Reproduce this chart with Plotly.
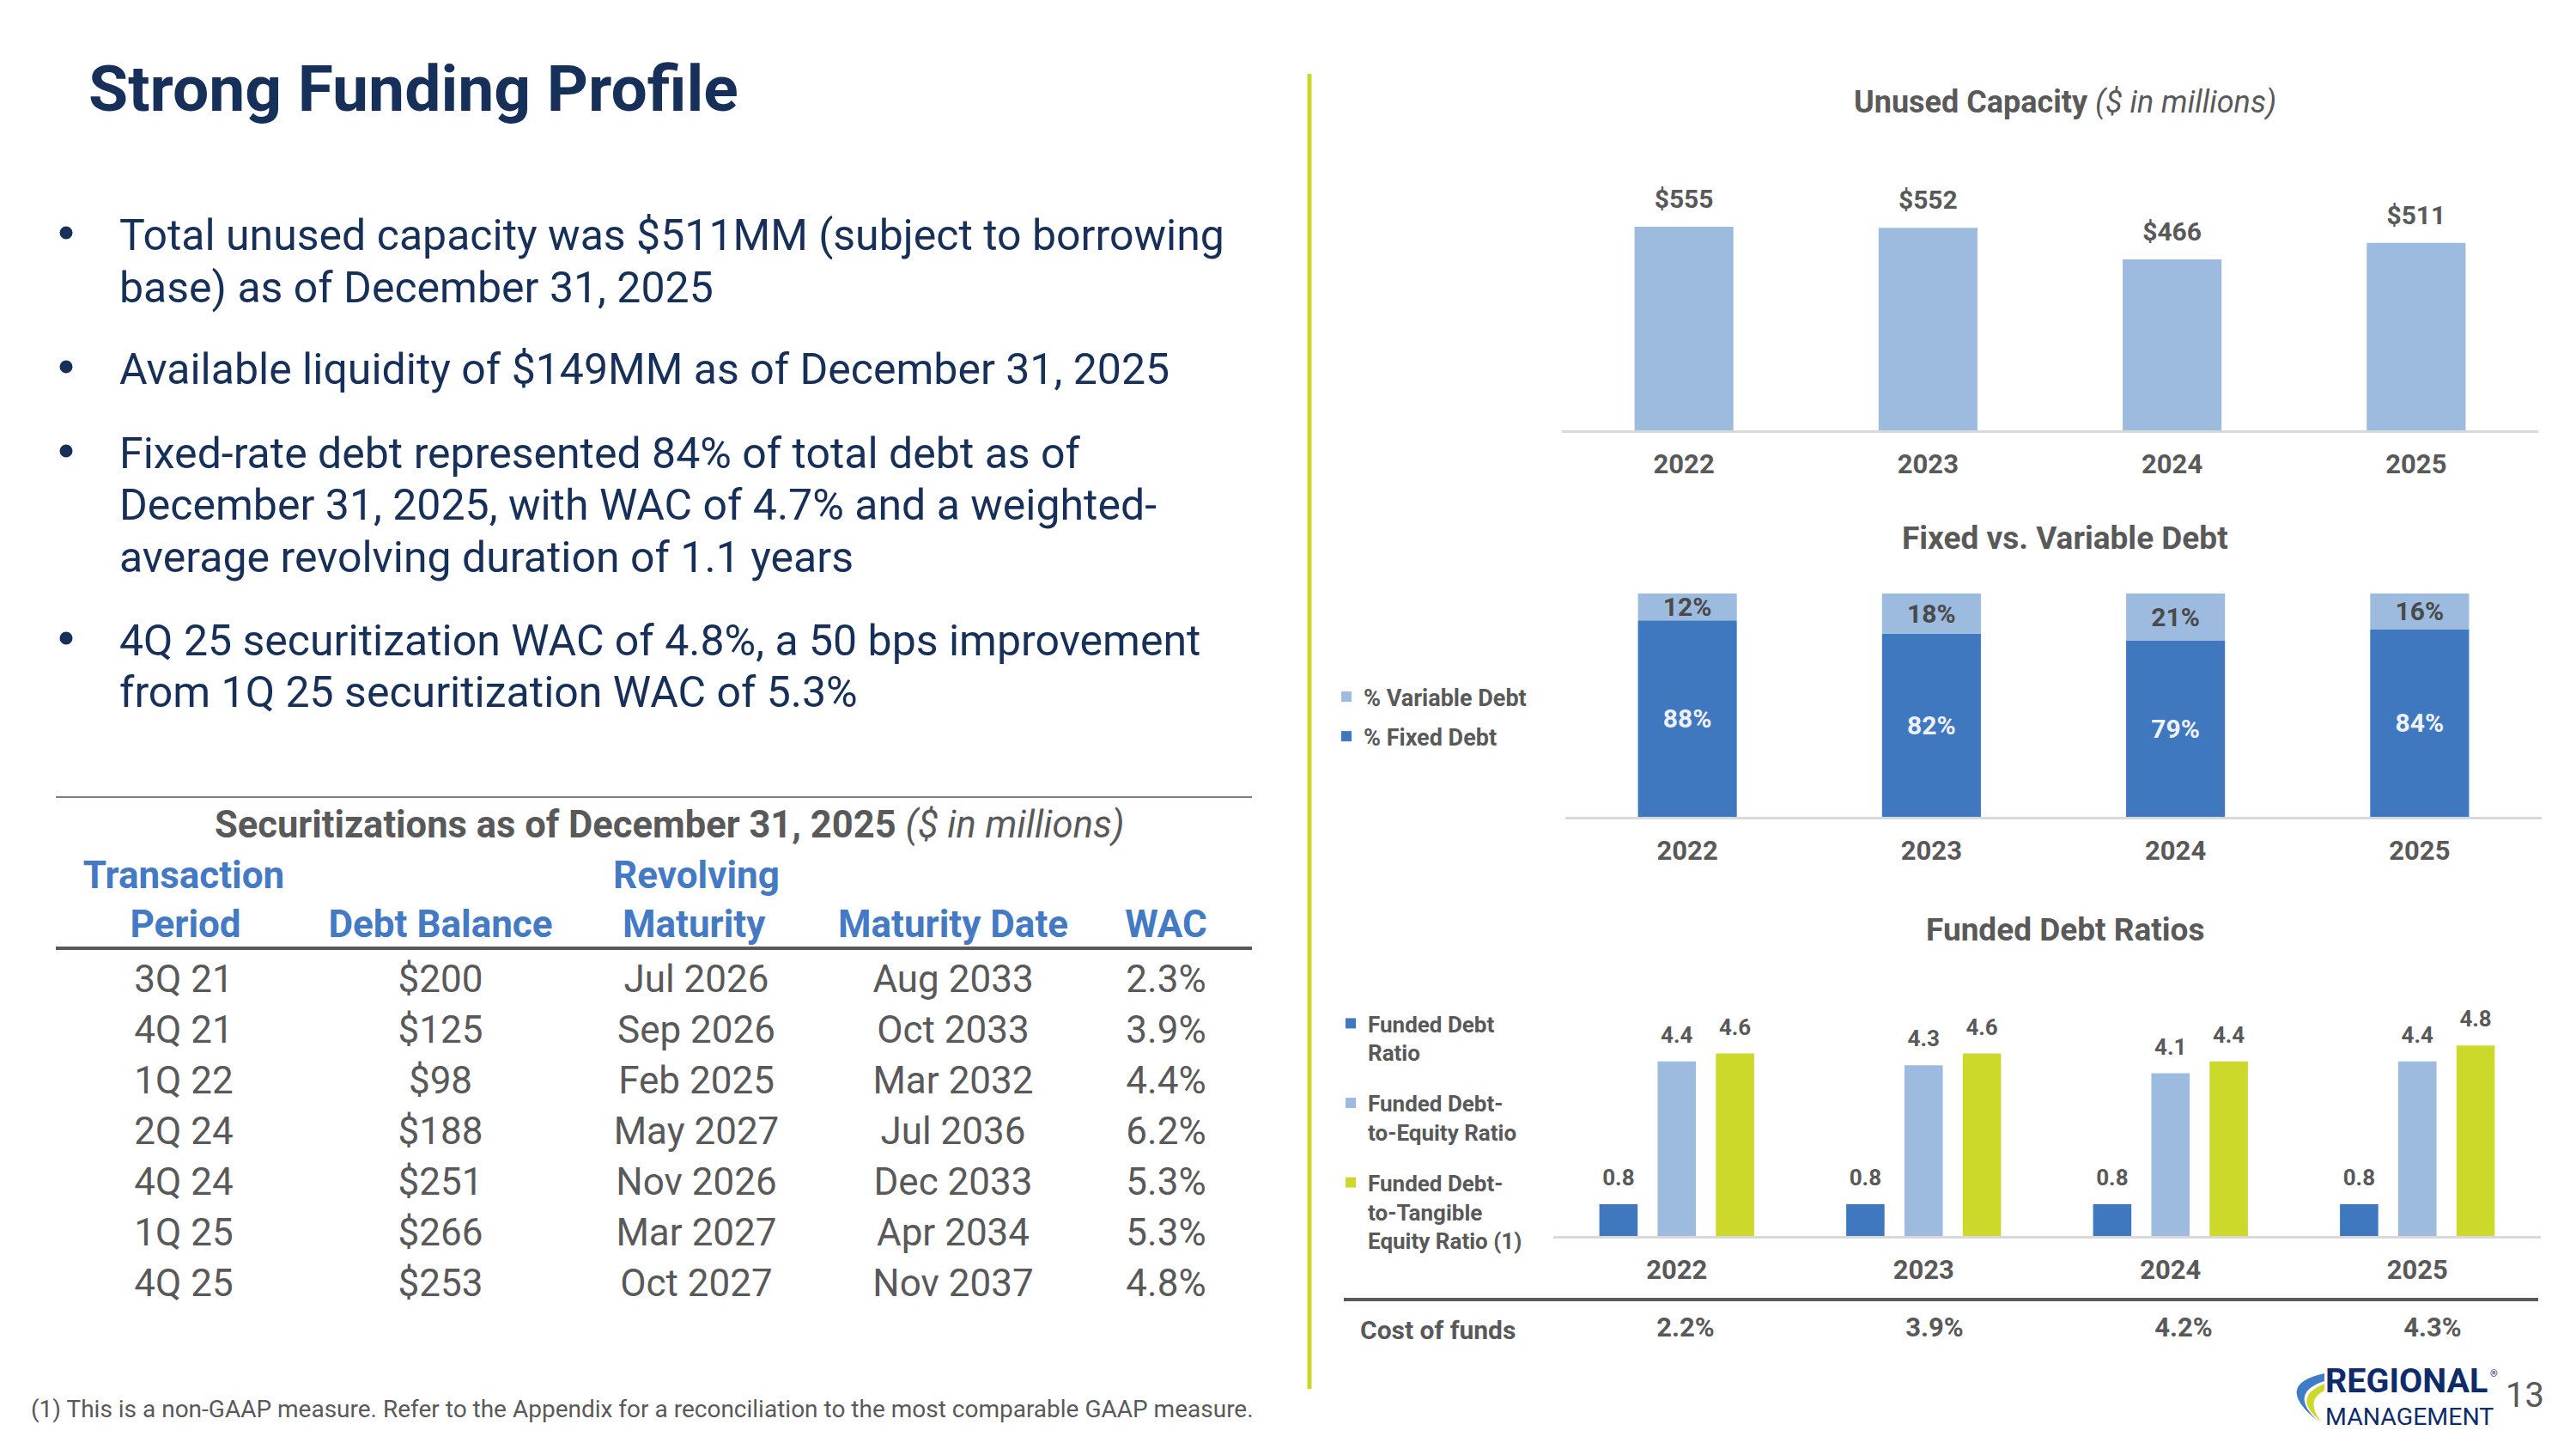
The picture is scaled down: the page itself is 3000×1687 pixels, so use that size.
import plotly.graph_objects as go

# ---------------- data ----------------
years = ["2022", "2023", "2024", "2025"]
unused_capacity = [555, 552, 466, 511]
fixed_debt_pct = [88, 82, 79, 84]
variable_debt_pct = [12, 18, 21, 16]
funded_debt_ratio = [0.8, 0.8, 0.8, 0.8]
funded_debt_to_equity = [4.4, 4.3, 4.1, 4.4]
funded_debt_to_tangible = [4.6, 4.6, 4.4, 4.8]
cost_of_funds = [2.2, 3.9, 4.2, 4.3]
cost_label = "Cost of funds"

NB = "\u00a0"
table_headers = ["Transaction<br>" + NB * 5 + "Period", " <br>Debt" + NB + "Balance",
                 "Revolving<br>" + NB + "Maturity", " <br>Maturity" + NB + "Date", " <br>WAC"]
periods = ["3Q 21", "4Q 21", "1Q 22", "2Q 24", "4Q 24", "1Q 25", "4Q 25"]
debt_balance = [200, 125, 98, 188, 251, 266, 253]
revolving_maturity = ["Jul 2026", "Sep 2026", "Feb 2025", "May 2027", "Nov 2026", "Mar 2027", "Oct 2027"]
maturity_date = ["Aug 2033", "Oct 2033", "Mar 2032", "Jul 2036", "Dec 2033", "Apr 2034", "Nov 2037"]
wac = [2.3, 3.9, 4.4, 6.2, 5.3, 5.3, 4.8]

bullets = [
    ["Total unused capacity was $511MM (subject to borrowing", "base) as of December 31, 2025"],
    ["Available liquidity of $149MM as of December 31, 2025"],
    ["Fixed-rate debt represented 84% of total debt as of",
     "December 31, 2025, with WAC of 4.7% and a weighted-",
     "average revolving duration of 1.1 years"],
    ["4Q 25 securitization WAC of 4.8%, a 50 bps improvement", "from 1Q 25 securitization WAC of 5.3%"],
]
footnote = "(1) This is a non-GAAP measure. Refer to the Appendix for a reconciliation to the most comparable GAAP measure."

# ---------------- style ----------------
W, H = 3000, 1687
def px(x):
    return x / W
def py(y):
    return 1 - y / H

FONT = "Roboto"
GRAY = "#595959"
NAVY = "#17305A"
HDR_BLUE = "#4479C4"
DARK_BLUE = "#3F78BF"
LIGHT_BLUE = "#9DBBDF"
GREEN = "#CCD82A"
AXIS_GRAY = "#D9D9D9"
LOGO_NAVY = "#0E2C6B"

fig = go.Figure()

# ---------- Chart 1: Unused capacity ----------
fig.add_trace(go.Bar(x=years, y=unused_capacity, marker=dict(color=LIGHT_BLUE, line=dict(width=0)),
                     width=0.405, xaxis="x", yaxis="y", showlegend=False, hoverinfo="skip"))
fig.add_trace(go.Scatter(x=years, y=unused_capacity, mode="markers+text",
                         text=[f"${v}" for v in unused_capacity], textposition="top center",
                         marker=dict(size=22, opacity=0), cliponaxis=False,
                         textfont=dict(family=FONT, size=30, color=GRAY, weight="bold"),
                         xaxis="x", yaxis="y", showlegend=False, hoverinfo="skip"))

# ---------- Chart 2: Fixed vs variable ----------
fig.add_trace(go.Bar(x=years, y=fixed_debt_pct, name="% Fixed Debt", legendrank=2,
                     marker=dict(color=DARK_BLUE, line=dict(width=0)), width=0.405, offsetgroup="fv",
                     text=[f"{v}%" for v in fixed_debt_pct], textposition="inside",
                     insidetextanchor="middle", constraintext="none", textangle=0,
                     textfont=dict(family=FONT, size=30, color="#EEF2F8", weight="bold"),
                     xaxis="x2", yaxis="y2", legend="legend2", legendgroup="fixed", hoverinfo="skip"))
fig.add_trace(go.Bar(x=years, y=variable_debt_pct, base=fixed_debt_pct, name="% Variable Debt", legendrank=1,
                     marker=dict(color=LIGHT_BLUE, line=dict(width=0)), width=0.405, offsetgroup="fv",
                     text=[f"{v}%" for v in variable_debt_pct], textposition="inside",
                     insidetextanchor="middle", constraintext="none", textangle=0,
                     textfont=dict(family=FONT, size=30, color="#4A4A4A", weight="bold"),
                     xaxis="x2", yaxis="y2", legend="legend2", legendgroup="variable", hoverinfo="skip"))

# ---------- Chart 3: Funded debt ratios ----------
ratio_series = [
    ("Funded Debt<br>Ratio", funded_debt_ratio, DARK_BLUE, "a"),
    ("Funded Debt-<br>to-Equity Ratio", funded_debt_to_equity, LIGHT_BLUE, "b"),
    ("Funded Debt-<br>to-Tangible<br>Equity Ratio (1)", funded_debt_to_tangible, GREEN, "c"),
]
for name, vals, col, grp in ratio_series:
    fig.add_trace(go.Bar(x=years, y=vals, name=name, marker=dict(color=col, line=dict(width=0)),
                         offsetgroup=grp, xaxis="x3", yaxis="y3", legend="legend3",
                         legendgroup=grp, hoverinfo="skip"))
for name, vals, col, grp in ratio_series:
    fig.add_trace(go.Scatter(x=years, y=vals, mode="markers+text", text=[f"{v:.1f}" for v in vals],
                             textposition="top center", marker=dict(size=23, opacity=0),
                             offsetgroup=grp, cliponaxis=False,
                             textfont=dict(family=FONT, size=26, color=GRAY, weight="bold"),
                             xaxis="x3", yaxis="y3", showlegend=False, hoverinfo="skip"))

# ---------- Cost of funds row ----------
fig.add_trace(go.Scatter(x=years, y=[0] * len(years), mode="text",
                         text=[f"{v:.1f}%" for v in cost_of_funds], textposition="middle center",
                         textfont=dict(family=FONT, size=31, color=GRAY, weight="bold"),
                         xaxis="x4", yaxis="y4", showlegend=False, hoverinfo="skip", cliponaxis=False))

# ---------- Securitizations table ----------
fig.add_trace(go.Table(
    domain=dict(x=[px(65), px(1455)], y=[py(1560), py(985)]),
    columnwidth=[298, 300, 296, 302, 194],
    header=dict(values=table_headers, align="center", height=129,
                font=dict(family=FONT, size=44, color=HDR_BLUE, weight="bold"),
                fill=dict(color="rgba(0,0,0,0)"), line=dict(color="rgba(0,0,0,0)", width=0)),
    cells=dict(values=[periods, debt_balance, revolving_maturity, maturity_date, wac],
               prefix=["", "$", "", "", ""], suffix=["", "", "", "", "%"],
               format=["", "d", "", "", ".1f"], align="center", height=59,
               font=dict(family=FONT, size=44, color=GRAY),
               fill=dict(color="rgba(0,0,0,0)"), line=dict(color="rgba(0,0,0,0)", width=0)),
))

# ---------------- axes ----------------
def xax(x0, x1, anchor):
    return dict(domain=[px(x0), px(x1)], anchor=anchor, type="category", showline=True,
                linecolor=AXIS_GRAY, linewidth=3, ticks="", showgrid=False, zeroline=False,
                ticklabelstandoff=10, fixedrange=True,
                tickfont=dict(family=FONT, size=31, color=GRAY, weight="bold"))

def yax(y_bottom, y_top, rng, anchor):
    return dict(domain=[py(y_bottom), py(y_top)], range=rng, visible=False, anchor=anchor,
                showgrid=False, zeroline=False, fixedrange=True)

ppu1 = 237 / 555
ppu3 = 46.2

annotations = []
def ann(text, x, y, size, color=GRAY, xanchor="left", yanchor="middle", weight="normal", align="left"):
    annotations.append(dict(text=text, x=px(x), y=py(y), xref="paper", yref="paper",
                            xanchor=xanchor, yanchor=yanchor, showarrow=False, align=align,
                            font=dict(family=FONT, size=size, color=color, weight=weight)))

shapes = []
def line(x0, y0, x1, y1, color, width):
    shapes.append(dict(type="line", xref="paper", yref="paper", x0=px(x0), y0=py(y0), x1=px(x1), y1=py(y1),
                       line=dict(color=color, width=width), layer="above"))

def dot(xc, yc, r, color):
    shapes.append(dict(type="circle", xref="paper", yref="paper", x0=px(xc - r), x1=px(xc + r),
                       y0=py(yc + r), y1=py(yc - r), fillcolor=color, line=dict(width=0), layer="above"))

def path(points, color):
    (ax, ay), (c1x, c1y), (bx, by), (c2x, c2y), (dx, dy) = points
    p = (f"M {px(ax)},{py(ay)} Q {px(c1x)},{py(c1y)} {px(bx)},{py(by)} "
         f"Q {px(c2x)},{py(c2y)} {px(dx)},{py(dy)} Z")
    shapes.append(dict(type="path", xref="paper", yref="paper", path=p, fillcolor=color,
                       line=dict(width=0), layer="above"))

ann("Strong Funding Profile", 101, 103, 75, NAVY, weight="bold")
line_ys = [[274, 335], [430], [528, 588, 649], [746, 806]]
for lines, ys in zip(bullets, line_ys):
    for txt, yy in zip(lines, ys):
        ann(txt, 137, yy, 50, NAVY)
    dot(77, ys[0] - 3, 7.5, NAVY)

ann("<b>Securitizations as of December 31, 2025</b> <i>($ in millions)</i>", 779, 960, 43.5, GRAY,
    xanchor="center")
ann("<b>Unused Capacity</b> <i>($ in millions)</i>", 2405, 119, 36, GRAY, xanchor="center")
ann("<b>Fixed vs. Variable Debt</b>", 2405, 626, 37, GRAY, xanchor="center")
ann("<b>Funded Debt Ratios</b>", 2405, 1082, 37, GRAY, xanchor="center")
ann(f"<b>{cost_label}</b>", 1582, 1548, 30, GRAY)
ann(footnote, 34, 1640, 28, GRAY)
ann("13", 2940, 1624, 40, GRAY, xanchor="center")
ann("REGIONAL", 2706, 1607, 39.5, LOGO_NAVY, weight="bold")
ann("®", 2898, 1599, 11, LOGO_NAVY)
ann("MANAGEMENT", 2706, 1649, 28.5, LOGO_NAVY)

line(1525, 86, 1525, 1617, "#C9D62C", 5)
line(65, 928, 1458, 928, "#7F7F7F", 2)
line(65, 1104, 1458, 1104, GRAY, 4)
line(1565, 1513, 2956, 1513, GRAY, 4)
path([(2707, 1599), (2646, 1612), (2700, 1655), (2664, 1622), (2707, 1608)], "#3E7CC6")
path([(2707, 1611), (2668, 1627), (2703, 1655), (2684, 1630), (2707, 1619)], "#CCD82A")

fig.update_layout(
    width=W, height=H, margin=dict(l=0, r=0, t=0, b=0),
    paper_bgcolor="white", plot_bgcolor="white",
    barmode="group", bargap=0.292, bargroupgap=0.343,
    scattermode="group", scattergap=0.292,
    font=dict(family=FONT, color=GRAY),
    xaxis=xax(1819, 2956, "y"),
    yaxis=yax(501, 230, [0, 271 / ppu1], "x"),
    xaxis2=xax(1823, 2960, "y2"),
    yaxis2=yax(951, 691, [0, 100], "x2"),
    xaxis3=xax(1809, 2959, "y3"),
    yaxis3=yax(1439, 1179, [0, 260 / ppu3], "x3"),
    xaxis4=dict(domain=[px(1818), px(2978)], anchor="y4", type="category", visible=False, fixedrange=True),
    yaxis4=dict(domain=[py(1580), py(1516)], anchor="x4", range=[-1, 1], visible=False, fixedrange=True),
    legend2=dict(x=px(1548), y=py(787), xanchor="left", yanchor="top", traceorder="grouped",
                 tracegroupgap=8, bgcolor="rgba(0,0,0,0)",
                 font=dict(family=FONT, size=27, color=GRAY, weight="bold")),
    legend3=dict(x=px(1553), y=py(1168), xanchor="left", yanchor="top", traceorder="grouped",
                 tracegroupgap=22, valign="top", bgcolor="rgba(0,0,0,0)",
                 font=dict(family=FONT, size=26, color=GRAY, weight="bold")),
    annotations=annotations,
    shapes=shapes,
)

fig.write_html("out.html", config={"displayModeBar": False},
               post_script="document.body.style.margin='0';document.body.style.overflow='hidden';")
